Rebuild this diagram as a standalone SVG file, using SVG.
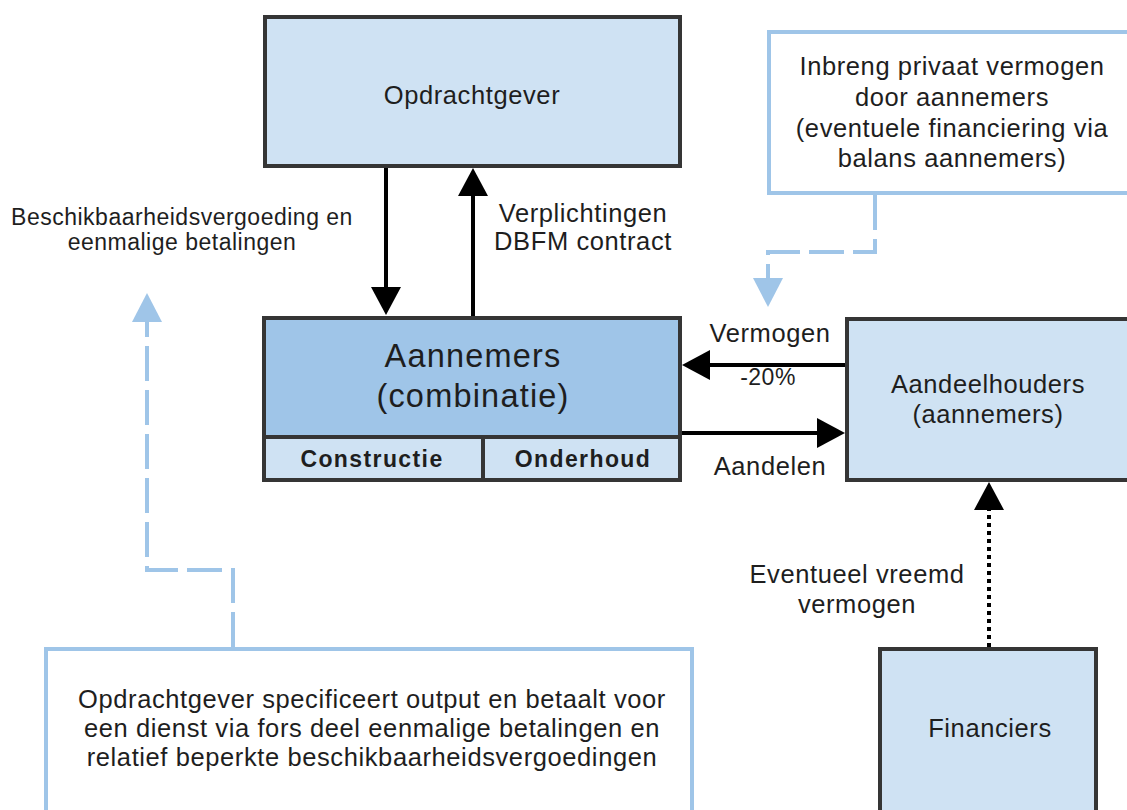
<svg xmlns="http://www.w3.org/2000/svg" width="1127" height="810" viewBox="0 0 1127 810">
  <style>
    text { font-family: "Liberation Sans", Arial, sans-serif; fill: #1e1e1e; }
    .lbl { font-size: 25.5px; letter-spacing: 0.6px; text-anchor: middle; }
    .sm { font-size: 23px; letter-spacing: 0.5px; text-anchor: middle; }
    .big { font-size: 32.5px; letter-spacing: 1.2px; text-anchor: middle; }
    .bold { font-size: 23px; font-weight: bold; letter-spacing: 1.4px; text-anchor: middle; }
    .dark { stroke: #353535; stroke-width: 4; }
    .pale { fill: #cfe2f3; }
    .mid { fill: #9fc5e8; }
    .note { fill: #fff; stroke: #9fc5e8; stroke-width: 4; }
    .flow { fill: none; stroke: #000; stroke-width: 4; }
    .dash { fill: none; stroke: #9fc5e8; stroke-width: 4; stroke-dasharray: 35 9; }
    .dot { fill: none; stroke: #000; stroke-width: 4; stroke-dasharray: 4 4; }
  </style>
  <defs>
    <marker id="ah" markerUnits="userSpaceOnUse" markerWidth="28" markerHeight="30" refX="18" refY="15" orient="auto">
      <path d="M0,0 L28,15 L0,30 z" fill="#000"/>
    </marker>
    <marker id="ahb" markerUnits="userSpaceOnUse" markerWidth="29" markerHeight="30" refX="19" refY="15" orient="auto">
      <path d="M0,0 L29,15 L0,30 z" fill="#9fc5e8"/>
    </marker>
  </defs>

  <rect width="1127" height="810" fill="#fff"/>

  <!-- note boxes -->
  <g id="note-inbreng">
    <rect class="note" x="769" y="32" width="380" height="161"/>
    <text class="lbl" x="952" y="75">Inbreng privaat vermogen</text>
    <text class="lbl" x="952" y="106">door aannemers</text>
    <text class="lbl" x="952" y="137">(eventuele financiering via</text>
    <text class="lbl" x="952" y="167">balans aannemers)</text>
  </g>
  <g id="note-opdrachtgever">
    <rect class="note" x="46" y="649" width="646" height="200"/>
    <text class="lbl" x="372" y="708">Opdrachtgever specificeert output en betaalt voor</text>
    <text class="lbl" x="372" y="737">een dienst via fors deel eenmalige betalingen en</text>
    <text class="lbl" x="372" y="766">relatief beperkte beschikbaarheidsvergoedingen</text>
  </g>

  <!-- main nodes -->
  <g id="opdrachtgever">
    <rect class="pale dark" x="265" y="17" width="415" height="149"/>
    <text class="lbl" x="472" y="104">Opdrachtgever</text>
  </g>
  <g id="aannemers">
    <rect class="mid dark" x="264" y="318" width="416" height="162"/>
    <rect class="pale" x="266" y="439" width="412" height="39"/>
    <line class="dark" x1="264" y1="437" x2="680" y2="437"/>
    <line class="dark" x1="483" y1="437" x2="483" y2="480"/>
    <text class="big" x="473" y="367">Aannemers</text>
    <text class="big" x="473" y="407">(combinatie)</text>
    <text class="bold" x="372" y="467">Constructie</text>
    <text class="bold" x="583" y="467">Onderhoud</text>
  </g>
  <g id="aandeelhouders">
    <rect class="pale dark" x="847" y="319" width="290" height="161"/>
    <text class="lbl" x="988" y="393">Aandeelhouders</text>
    <text class="lbl" x="988" y="423">(aannemers)</text>
  </g>
  <g id="financiers">
    <rect class="pale dark" x="880" y="649" width="216" height="200"/>
    <text class="lbl" x="990" y="737">Financiers</text>
  </g>

  <!-- connectors -->
  <g id="connectors">
    <path class="flow" d="M386,168 V305" marker-end="url(#ah)"/>
    <path class="flow" d="M473,316 V178" marker-end="url(#ah)"/>
    <path class="flow" d="M845,365 H692" marker-end="url(#ah)"/>
    <path class="flow" d="M682,433 H835" marker-end="url(#ah)"/>
    <path class="dot" d="M989,647 V492" marker-end="url(#ah)"/>
    <path class="dash" d="M233,647 V570 H147 V303" marker-end="url(#ahb)"/>
    <path class="dash" d="M875,195 V252 H768 V297" marker-end="url(#ahb)"/>
  </g>

  <!-- connector labels -->
  <g id="labels">
    <text class="sm" x="182" y="225">Beschikbaarheidsvergoeding en</text>
    <text class="sm" x="182" y="250">eenmalige betalingen</text>
    <text class="lbl" x="583" y="222">Verplichtingen</text>
    <text class="lbl" x="583" y="250">DBFM contract</text>
    <text class="lbl" x="770" y="342">Vermogen</text>
    <text class="sm" x="768" y="385">-20%</text>
    <text class="lbl" x="770" y="475">Aandelen</text>
    <text class="lbl" x="857" y="583">Eventueel vreemd</text>
    <text class="lbl" x="857" y="613">vermogen</text>
  </g>
</svg>
